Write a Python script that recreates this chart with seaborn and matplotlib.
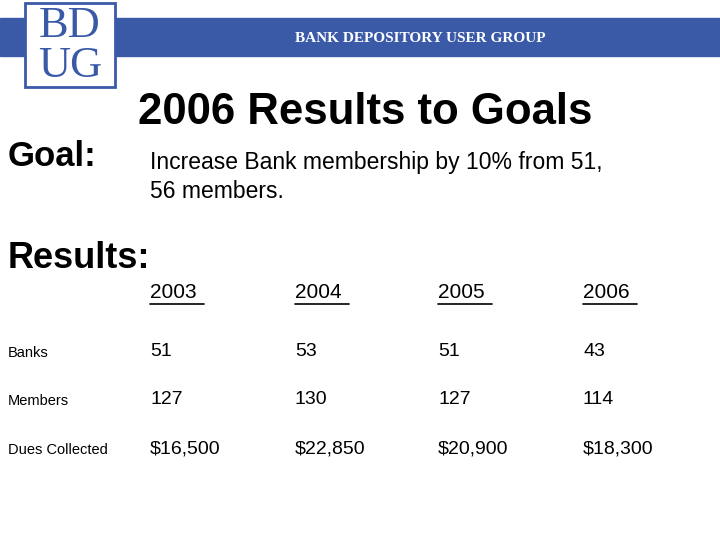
import matplotlib
matplotlib.use("Agg")
import matplotlib.pyplot as plt
import seaborn as sns
from matplotlib.patches import Rectangle

sns.set_style("white")
plt.rcParams['font.family'] = ['Liberation Sans', 'DejaVu Sans']
plt.rcParams['text.color'] = 'black'

years = ["2003", "2004", "2005", "2006"]
row_labels = ["Banks", "Members", "Dues Collected"]
banks = ["51", "53", "51", "43"]
members = ["127", "130", "127", "114"]
dues = ["$16,500", "$22,850", "$20,900", "$18,300"]
rows = [banks, members, dues]

fig = plt.figure(figsize=(7.2, 5.4), dpi=100)
ax = fig.add_axes([0, 0, 1, 1])
ax.set_xlim(0, 720); ax.set_ylim(540, 0); ax.axis("off")

blue = "#3a5aa8"
ax.add_patch(Rectangle((0, 18), 720, 38, color=blue, zorder=1))
ax.text(420, 38, "BANK DEPOSITORY USER GROUP", color="white", fontsize=11,
        fontweight="bold", family="Liberation Serif", ha="center", va="center", zorder=3)
ax.add_patch(Rectangle((25, 3), 90, 84, facecolor="white", edgecolor=blue, lw=2, zorder=2))
ax.text(70, 26, "BD", color=blue, fontsize=32, family="Liberation Serif", ha="center", va="center", zorder=3)
ax.text(70, 66, "UG", color=blue, fontsize=32, family="Liberation Serif", ha="center", va="center", zorder=3)

ax.text(365, 113, "2006 Results to Goals", fontsize=31.5, fontweight="bold", ha="center", va="center")
ax.text(8, 156, "Goal:", fontsize=25, fontweight="bold", ha="left", va="center")
ax.text(150, 162, "Increase Bank membership by 10% from 51,", fontsize=16.5, ha="left", va="center")
ax.text(150, 192, "56 members.", fontsize=16.5, ha="left", va="center")
ax.text(8, 258, "Results:", fontsize=26, fontweight="bold", ha="left", va="center")

xs = [150, 295, 438, 583]
for x, y in zip(xs, years):
    ax.text(x, 293, y, fontsize=15, ha="left", va="center")
    ax.plot([x, x + 54], [304, 304], color="black", lw=1.2)
ys = [353, 401, 450]
for yy, lab, vals in zip(ys, row_labels, rows):
    ax.text(8, yy, lab, fontsize=10.5, ha="left", va="center")
    for x, v in zip(xs, vals):
        ax.text(x, yy - 1, v, fontsize=14, ha="left", va="center")

fig.savefig("out.png", dpi=100)
